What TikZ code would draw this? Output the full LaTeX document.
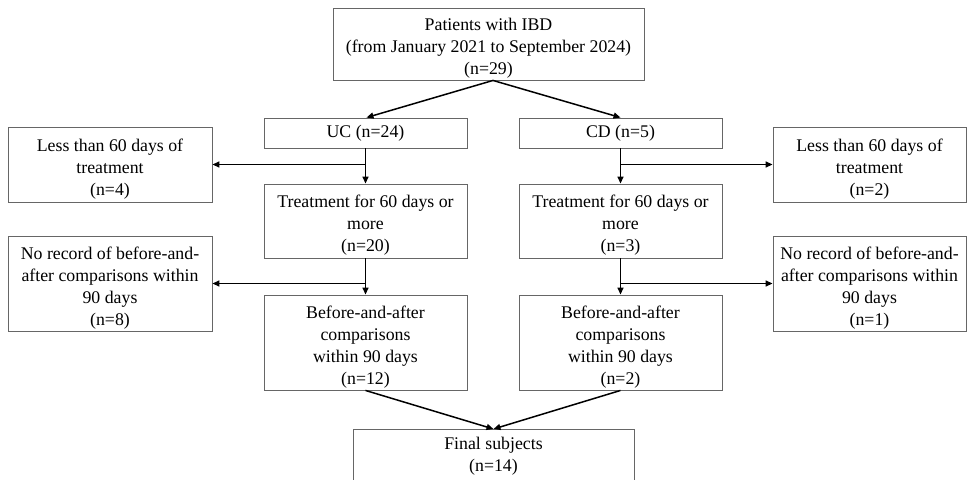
\documentclass[tikz,border=0pt]{standalone}
\usepackage{fontspec}
\setmainfont{Liberation Serif}
\usetikzlibrary{arrows.meta}
\newcommand{\st}{\rule{0pt}{21pt}}
\begin{document}
\begin{tikzpicture}[x=1pt,y=-1pt,
  box/.style={draw=black!60, line width=0.9pt, align=center, inner sep=0pt,
    font=\fontsize{17.8}{22}\selectfont},
  arr/.style={draw=black, line width=1.5pt, -{Triangle[length=7pt,width=6pt]}}]
\useasboundingbox (0,0) rectangle (971,479);
\clip (0,0) rectangle (971,479);
\node[box, minimum width=311pt, minimum height=72pt] (top) at (488.5,44) {\st Patients with IBD\\(from January 2021 to September 2024)\\(n=29)};
\node[box, minimum width=203pt, minimum height=30pt] (uc) at (365.5,133) {UC (n=24)};
\node[box, minimum width=203pt, minimum height=30pt] (cd) at (620.5,133) {CD (n=5)};
\node[box, minimum width=204pt, minimum height=75pt] (lessL) at (110,164.5) {\st Less than 60 days of\\treatment\\(n=4)};
\node[box, minimum width=193pt, minimum height=75pt] (lessR) at (869.5,164.5) {\st Less than 60 days of\\treatment\\(n=2)};
\node[box, minimum width=203pt, minimum height=74pt] (tuc) at (365.5,221) {\st Treatment for 60 days or\\more\\(n=20)};
\node[box, minimum width=203pt, minimum height=74pt] (tcd) at (620.5,221) {\st Treatment for 60 days or\\more\\(n=3)};
\node[box, minimum width=204pt, minimum height=95pt] (noL) at (110,283.5) {\st No record of before-and-\\after comparisons within\\90 days\\(n=8)};
\node[box, minimum width=193pt, minimum height=95pt] (noR) at (869.5,283.5) {\st No record of before-and-\\after comparisons within\\90 days\\(n=1)};
\node[box, minimum width=203pt, minimum height=95pt] (buc) at (365.5,342.5) {\st Before-and-after\\comparisons\\within 90 days\\(n=12)};
\node[box, minimum width=203pt, minimum height=95pt] (bcd) at (620.5,342.5) {\st Before-and-after\\comparisons\\within 90 days\\(n=2)};
\node[box, minimum width=281pt, minimum height=54pt, anchor=north] (fin) at (493.5,429) {Final subjects\\(n=14)};
\coordinate (tb) at ([xshift=4.5pt]top.south);
\draw[arr] (tb) -- ([xshift=1pt]uc.north);
\draw[arr] (tb) -- (cd.north);
\draw[arr] (uc.south) -- (tuc.north);
\draw[arr] (cd.south) -- (tcd.north);
\draw[arr] (tuc.south) -- (buc.north);
\draw[arr] (tcd.south) -- (bcd.north);
\coordinate (j1) at (uc.south |- lessL.east);
\coordinate (j2) at (cd.south |- lessR.west);
\coordinate (j3) at (tuc.south |- noL.east);
\coordinate (j4) at (tcd.south |- noR.west);
\draw[arr] (j1) -- (lessL.east);
\draw[arr] (j2) -- (lessR.west);
\draw[arr] (j3) -- (noL.east);
\draw[arr] (j4) -- (noR.west);
\draw[arr] (buc.south) -- (fin.north);
\draw[arr] (bcd.south) -- (fin.north);
\end{tikzpicture}
\end{document}
